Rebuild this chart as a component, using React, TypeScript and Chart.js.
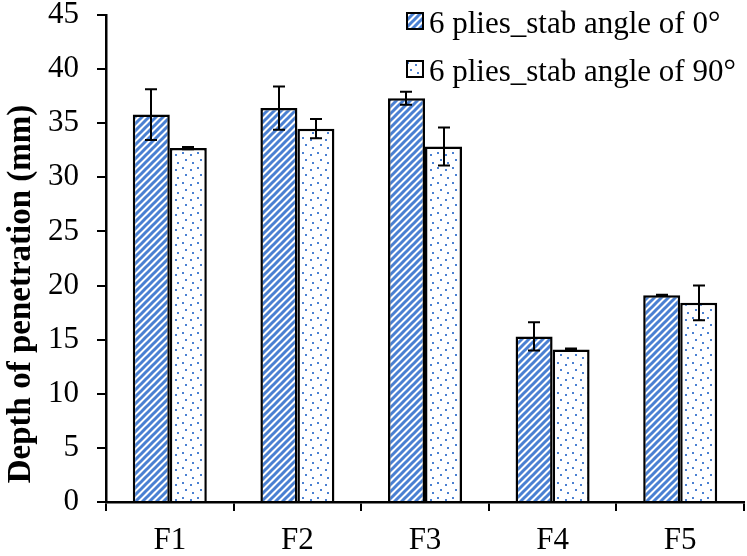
import React, { useEffect, useRef } from "react";
import { Chart, registerables } from "chart.js";

Chart.register(...registerables);

const categories = ["F1", "F2", "F3", "F4", "F5"];
const seriesNames = ["6 plies_stab angle of 0°", "6 plies_stab angle of 90°"];
const values0 = [35.8, 36.4, 37.3, 15.3, 19.1];
const errors0 = [2.35, 2.0, 0.6, 1.3, 0.05];
const values90 = [32.7, 34.5, 32.85, 14.1, 18.4];
const errors90 = [0.1, 0.9, 1.75, 0.08, 1.6];
const yTicks = [0, 5, 10, 15, 20, 25, 30, 35, 40, 45];
const yTitle = "Depth of penetration (mm)";

const BLUE = "#4a80d2";
const FONT = "'Liberation Serif', 'Times New Roman', serif";

function stripePattern(ctx: CanvasRenderingContext2D): CanvasPattern {
  const s = 7;
  const c = document.createElement("canvas");
  c.width = s;
  c.height = s;
  const g = c.getContext("2d")!;
  g.fillStyle = "#ffffff";
  g.fillRect(0, 0, s, s);
  g.strokeStyle = BLUE;
  g.lineWidth = 3.0;
  g.beginPath();
  g.moveTo(-1, s + 1);
  g.lineTo(s + 1, -1);
  g.moveTo(-3, 3);
  g.lineTo(3, -3);
  g.moveTo(s - 3, s + 3);
  g.lineTo(s + 3, s - 3);
  g.stroke();
  return ctx.createPattern(c, "repeat")!;
}

function dotPattern(ctx: CanvasRenderingContext2D): CanvasPattern {
  const s = 15;
  const c = document.createElement("canvas");
  c.width = s;
  c.height = s;
  const g = c.getContext("2d")!;
  g.fillStyle = "#ffffff";
  g.fillRect(0, 0, s, s);
  g.fillStyle = BLUE;
  const pts = [
    [2, 2],
    [10, 4],
    [5, 9],
    [12, 12],
  ];
  for (const [x, y] of pts) {
    g.fillRect(x, y, 2, 2);
  }
  return ctx.createPattern(c, "repeat")!;
}

export default function App() {
  const ref = useRef<HTMLCanvasElement | null>(null);

  useEffect(() => {
    const canvas = ref.current!;
    const ctx = canvas.getContext("2d")!;
    const p0 = stripePattern(ctx);
    const p90 = dotPattern(ctx);
    const errs = [errors0, errors90];
    const pats = [p0, p90];

    const errorBars = {
      id: "errorBars",
      afterDatasetsDraw(chart: any) {
        const c = chart.ctx;
        const ys = chart.scales.y;
        c.save();
        c.strokeStyle = "#000";
        c.lineWidth = 2;
        chart.data.datasets.forEach((ds: any, i: number) => {
          const meta = chart.getDatasetMeta(i);
          meta.data.forEach((el: any, j: number) => {
            const v = ds.data[j];
            const e = errs[i][j];
            const x = Math.round(el.x);
            const yt = ys.getPixelForValue(v + e);
            const yb = ys.getPixelForValue(v - e);
            c.beginPath();
            c.moveTo(x, yt);
            c.lineTo(x, yb);
            c.moveTo(x - 6, yt);
            c.lineTo(x + 6, yt);
            c.moveTo(x - 6, yb);
            c.lineTo(x + 6, yb);
            c.stroke();
          });
        });
        c.restore();
      },
    };

    const customText = {
      id: "customText",
      afterDraw(chart: any) {
        const c = chart.ctx;
        c.save();
        c.fillStyle = "#000";
        c.font = `bold 33px ${FONT}`;
        c.textAlign = "center";
        c.textBaseline = "alphabetic";
        c.translate(30, 294);
        c.rotate(-Math.PI / 2);
        c.fillText(yTitle, 0, 0);
        c.restore();

        c.save();
        c.font = `31px ${FONT}`;
        c.textAlign = "left";
        c.textBaseline = "alphabetic";
        seriesNames.forEach((name, i) => {
          const by = 12 + i * 48;
          c.fillStyle = pats[i];
          c.fillRect(407, by + 1, 16, 16);
          c.strokeStyle = "#000";
          c.lineWidth = 2;
          c.strokeRect(407, by + 1, 16, 16);
          c.fillStyle = "#000";
          c.fillText(name, 429, 33 + i * 48);
        });
        c.restore();
      },
    };

    const chart = new Chart(ctx, {
      type: "bar",
      data: {
        labels: categories,
        datasets: [
          {
            label: seriesNames[0],
            data: values0,
            backgroundColor: p0,
            borderColor: "#000",
            borderWidth: 2.5,
            barPercentage: 1,
            categoryPercentage: 0.58,
          },
          {
            label: seriesNames[1],
            data: values90,
            backgroundColor: p90,
            borderColor: "#000",
            borderWidth: 2.5,
            barPercentage: 1,
            categoryPercentage: 0.58,
          },
        ],
      },
      options: {
        responsive: false,
        animation: false,
        layout: { padding: { top: 15, right: 3, left: 0, bottom: 0 } },
        plugins: {
          legend: { display: false },
          tooltip: { enabled: false },
          title: { display: false },
        },
        scales: {
          x: {
            offset: true,
            grid: {
              display: true,
              offset: true,
              drawOnChartArea: false,
              drawTicks: true,
              tickLength: 9,
              color: "#000",
              lineWidth: 2,
            },
            border: { display: true, color: "#000", width: 2.5 },
            ticks: {
              color: "#000",
              font: { family: FONT, size: 31 },
              padding: 11,
            },
            afterFit(scale: any) {
              scale.height = 54;
            },
          },
          y: {
            min: 0,
            max: 45,
            afterBuildTicks(scale: any) {
              scale.ticks = yTicks.map((v) => ({ value: v }));
            },
            grid: {
              display: true,
              drawOnChartArea: false,
              drawTicks: true,
              tickLength: 9,
              color: "#000",
              lineWidth: 2,
            },
            border: { display: true, color: "#000", width: 2.5 },
            ticks: {
              color: "#000",
              font: { family: FONT, size: 31 },
              padding: 18,
            },
            afterFit(scale: any) {
              scale.width = 106;
              scale.paddingTop = 0;
              scale.paddingBottom = 0;
            },
          },
        },
      },
      plugins: [errorBars, customText],
    });

    return () => chart.destroy();
  }, []);

  return (
    <div style={{ position: "fixed", left: 0, top: 0, width: 747, height: 556, background: "#fff" }}>
      <canvas ref={ref} width={747} height={556} style={{ display: "block" }} />
    </div>
  );
}
